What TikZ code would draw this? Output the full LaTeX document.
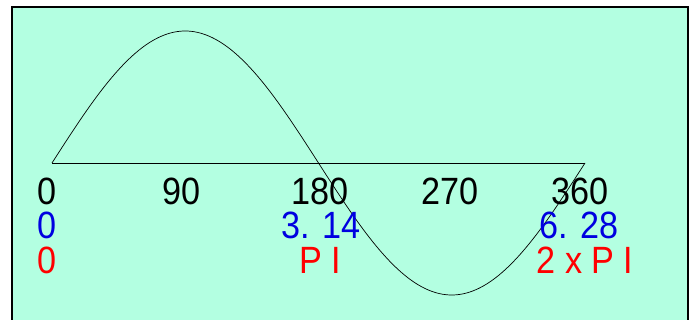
\documentclass[tikz,border=0pt]{standalone}
\usepackage{fontspec}
\setmainfont{Liberation Sans}
\newfontfamily\lblfont[FakeStretch=0.9]{Liberation Sans}
\definecolor{mint}{HTML}{B3FFE1}
\definecolor{lblblue}{HTML}{0000E0}
\definecolor{lblred}{HTML}{FF0000}
\begin{document}
\begin{tikzpicture}[x=1pt,y=-1pt,
  lbl/.style={anchor=base,inner sep=0pt,text height=27pt,text depth=0pt,font=\lblfont\fontsize{38}{38}\selectfont},
  deg/.style={lbl,text=black},
  rad/.style={lbl,text=lblblue},
  pil/.style={lbl,text=lblred}]
\useasboundingbox (0,0) rectangle (690,320);
\fill[white] (0,0) rectangle (690,320);
\begin{scope}
\clip (0,0) rectangle (690,320);
\draw[fill=mint,line width=2.2pt] (12,7) rectangle (688,340);
\end{scope}
\coordinate (start) at (52,163);
\coordinate (end) at (585,163);
\draw[line width=0.7pt] (start) -- (end);
\draw[line width=0.7pt,smooth] plot[domain=0:360,samples=181,variable=\t] ({52+\t*1.480556},{163-132*sin(\t)});
\node[deg] (d0) at (47,205) {0};
\node[deg] (d90) at (182,205) {90};
\node[deg] (d180) at (320,205) {180};
\node[deg] (d270) at (450,205) {270};
\node[deg] (d360) at (580,205) {360};
\node[rad] (r0) at (47,239) {0};
\node[rad] (r1) at (321,239) {3. 14};
\node[rad] (r2) at (579,239) {6. 28};
\node[pil] (p0) at (47,273) {0};
\node[pil] (p1) at (320,273) {P I};
\node[pil] (p2) at (585,273) {2 x P I};
\end{tikzpicture}
\end{document}
